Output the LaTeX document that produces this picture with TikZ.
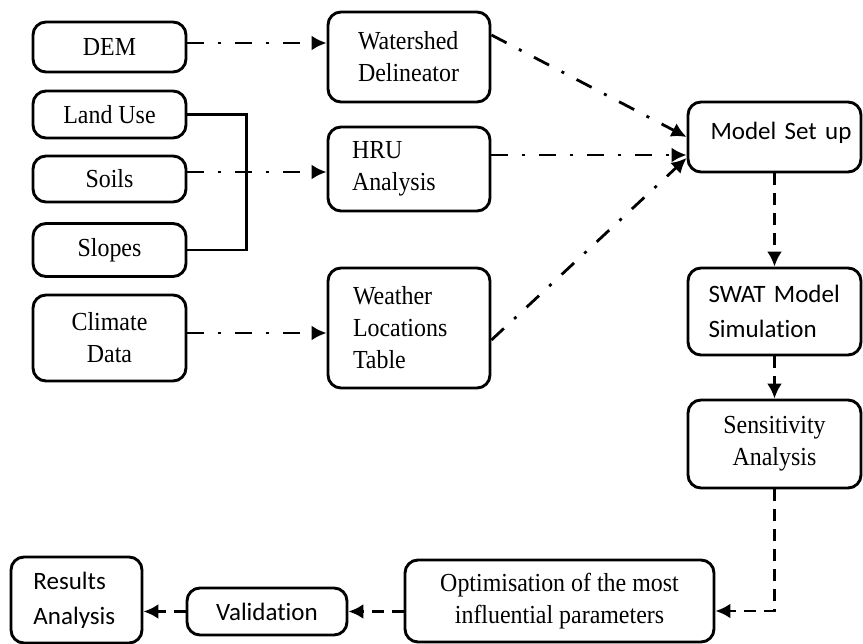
\documentclass[tikz,border=0pt]{standalone}
\usepackage{fontspec}
\setmainfont{Liberation Serif}[FakeStretch=0.92]
\newfontfamily\calibrifont{Carlito}[Ligatures=NoCommon]
\usepackage{tikz}
\usetikzlibrary{arrows.meta}
\tikzset{every picture/.append style={font=\fontsize{26}{32}\selectfont}}
\definecolor{figink}{HTML}{000000}
\tikzset{
  box/.style={draw=figink, line width=2.9pt, rounded corners=13pt, inner sep=0pt, align=center},
  lbox/.style={box, align=left, text width=#1},
  sansbox/.style={font=\fontsize{25}{35}\calibrifont},
  flow/.style={draw=figink, line width=2.8pt, -{Latex[length=15pt,width=15pt]}},
  dashdot/.style={flow, dash pattern=on 17pt off 14pt on 3pt off 14pt},
  dashline/.style={flow, dash pattern=on 12pt off 8pt},
}

\begin{document}
\begin{tikzpicture}[x=1pt,y=-1pt]
    \useasboundingbox (0,0) rectangle (863,644);
    \node[box, minimum width=153, minimum height=50] (dem) at (109.5,47) {DEM};
    \node[box, minimum width=153, minimum height=47] (landuse) at (109.5,114.5) {Land Use};
    \node[box, minimum width=153, minimum height=46] (soils) at (109.5,179) {Soils};
    \node[box, minimum width=153, minimum height=53] (slopes) at (109.5,250) {Slopes};
    \node[box, minimum width=153, minimum height=86] (climate) at (109.5,338) {Climate\\Data};
    \node[lbox=102, minimum width=162, minimum height=90] (watershed) at (409,57) {Watershed\\Delineator};
    \node[lbox=114, minimum width=162, minimum height=84] (hru) at (409,169) {HRU\\Analysis};
    \node[lbox=112, minimum width=162, minimum height=120] (weather) at (409,328) {Weather\\Locations\\Table};
    \node[lbox=128, sansbox, minimum width=173, minimum height=70] (setup) at (774.5,137) {\mbox{Model Set up}\\[-22pt]\mbox{}};
    \node[lbox=132, sansbox, minimum width=173, minimum height=87] (swat) at (774.5,311.5) {SWAT Model\\Simulation};
    \node[box, minimum width=173, minimum height=88] (sens) at (774.5,444) {Sensitivity\\Analysis};
    \node[box, minimum width=309, minimum height=82] (optim) at (559.5,601) {Optimisation of the most\\influential parameters};
    \node[box, sansbox, minimum width=160, minimum height=47] (valid) at (267,611.5) {Validation};
    \node[lbox=86, sansbox, minimum width=131, minimum height=86] (results) at (76.5,600) {Results\\Analysis};

    \draw[line width=2.8pt] (landuse.east) -- ++(59,0) |- (slopes.east);
    \draw[dashdot] ([yshift=4pt]dem.east) -- ([yshift=4pt]dem.east -| watershed.west);
    \draw[dashdot] ([yshift=7pt]soils.east) -- ([yshift=7pt]soils.east -| hru.west);
    \draw[dashdot] ([yshift=5pt]climate.east) -- ([yshift=5pt]climate.east -| weather.west);
    \draw[dashdot] ([yshift=22pt]watershed.east) -- (setup.west);
    \draw[dashdot] ([yshift=14pt]hru.east) -- ([yshift=14pt]hru.east -| setup.west);
    \draw[dashdot] ([yshift=-12pt]weather.east) -- ([yshift=-21pt]setup.west);
    \draw[dashline] (setup.south) -- (swat.north);
    \draw[dashline] (swat.south) -- (sens.north);
    \draw[dashline] (sens.south) |- ([yshift=-10pt]optim.east);
    \draw[dashline] (valid.east -| optim.west) -- (valid.east);
    \draw[dashline] (valid.west) -- (valid.west -| results.east);
  \end{tikzpicture}
\end{document}
